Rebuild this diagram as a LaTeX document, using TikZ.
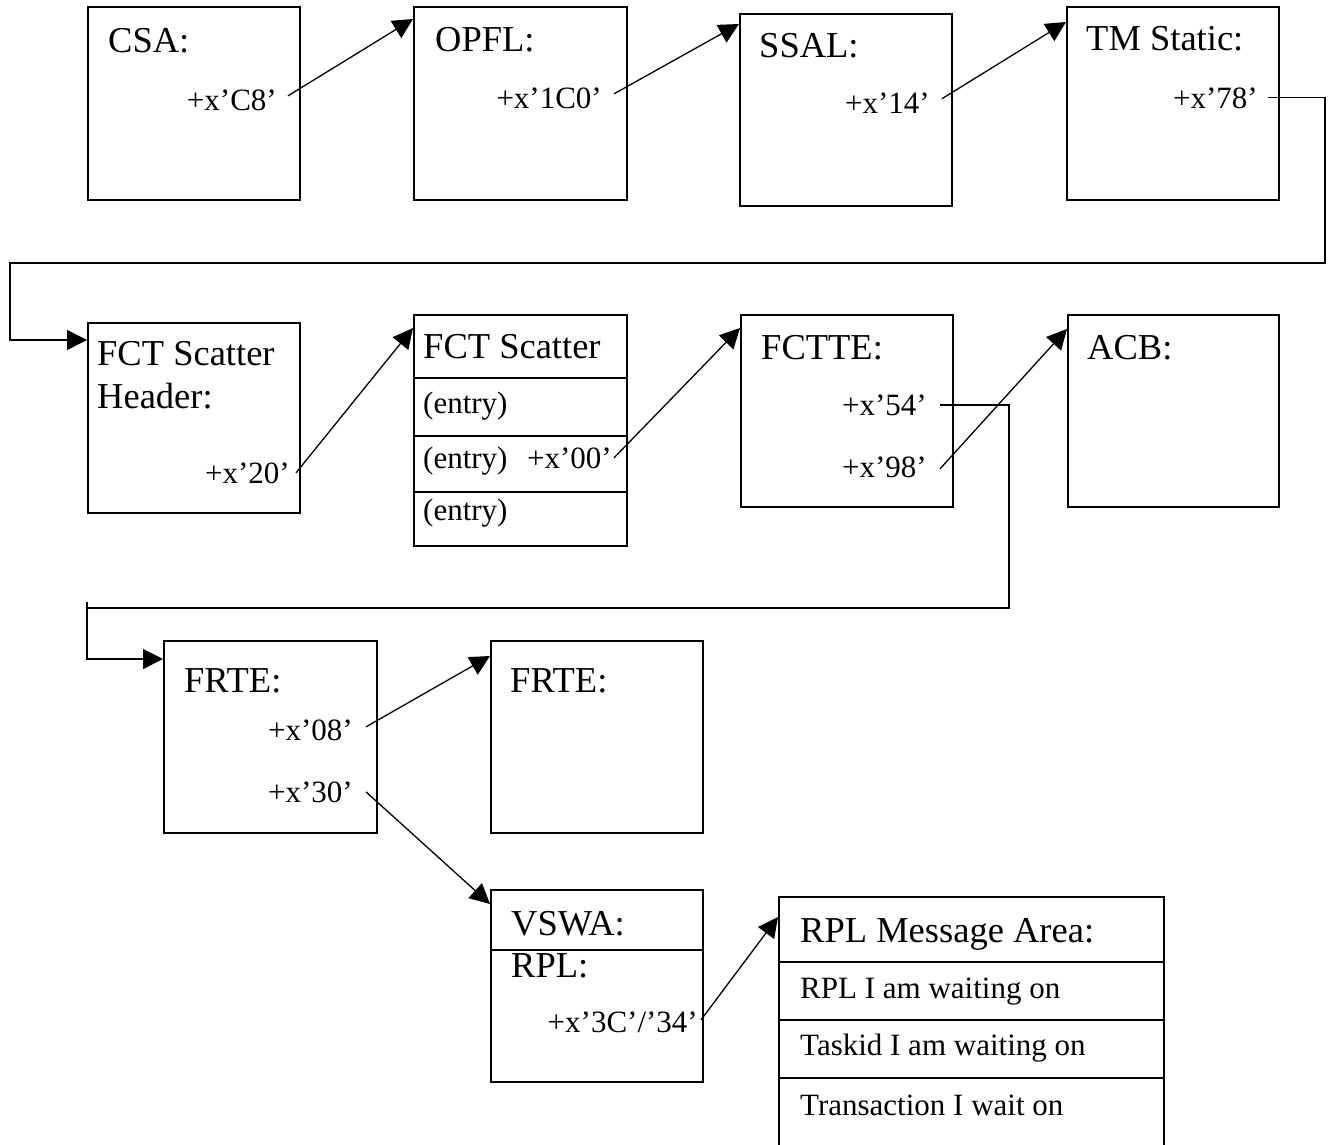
\documentclass[tikz,border=0pt]{standalone}
\usepackage{fontspec}
\setmainfont{Liberation Serif}
\usetikzlibrary{arrows.meta}
\begin{document}
\begin{tikzpicture}[x=1pt,y=-1pt,
 box/.style={draw, line width=1.5pt, inner sep=0pt, anchor=north west},
 ttl/.style={font=\fontsize{36.5}{40}\selectfont, anchor=base west, inner sep=0pt},
 sm/.style={font=\fontsize{31}{34}\selectfont, anchor=base west, inner sep=0pt},
 smr/.style={font=\fontsize{31}{34}\selectfont, anchor=base east, inner sep=0pt},
 tip/.style={-{Triangle[length=20pt,width=20pt]}},
 ptr/.style={line width=1.3pt, tip},
 wire/.style={line width=1.3pt},
 divl/.style={line width=1.3pt}]
\useasboundingbox (0,0) rectangle (1332,1144);
\clip (0,0) rectangle (1332,1144);
% row 1
\node[box, minimum width=212pt, minimum height=193pt] (csa) at (87,6) {};
\node[box, minimum width=213pt, minimum height=193pt] (opfl) at (413,6) {};
\node[box, minimum width=212pt, minimum height=192pt] (ssal) at (739,13) {};
\node[box, minimum width=212pt, minimum height=193pt] (tm) at (1066,6) {};
\node[ttl] (csat) at (108,52) {CSA:};
\node[smr] (c8) at (277,110) {+x’C8’};
\node[ttl] (opflt) at (435,51) {OPFL:};
\node[smr] (c1c0) at (602,108) {+x’1C0’};
\node[ttl] (ssalt) at (759,57) {SSAL:};
\node[smr] (c14) at (930,113) {+x’14’};
\node[ttl] (tmt) at (1086,50) {TM Static:};
\node[smr] (c78) at (1258,108) {+x’78’};
% row 2
\node[box, minimum width=212pt, minimum height=190pt] (fch) at (87,322) {};
\node[box, minimum width=213pt, minimum height=231pt] (fcs) at (413,314) {};
\node[box, minimum width=212pt, minimum height=192pt] (fctte) at (740,314) {};
\node[box, minimum width=211pt, minimum height=192pt] (acb) at (1067,314) {};
\node[ttl] (fcht1) at (97,365) {FCT Scatter};
\node[ttl] (fcht2) at (97,408) {Header:};
\node[smr] (c20) at (290,483) {+x’20’};
\node[ttl] (fcst) at (423,358) {FCT Scatter};
\node[sm] (e1) at (423,413) {(entry)};
\node[sm] (e2) at (423,468) {(entry)};
\node[smr] (c00) at (612,468) {+x’00’};
\node[sm] (e3) at (423,520) {(entry)};
\foreach \yy in {378,436,492} \draw[divl] (fcs.west |- 0,\yy) -- (fcs.east |- 0,\yy);
\node[ttl] (fcttet) at (761,359) {FCTTE:};
\node[smr] (c54) at (927,415) {+x’54’};
\node[smr] (c98) at (927,477) {+x’98’};
\node[ttl] (acbt) at (1087,359) {ACB:};
% row 3
\node[box, minimum width=213pt, minimum height=192pt] (frte1) at (163,640) {};
\node[box, minimum width=212pt, minimum height=192pt] (frte2) at (490,640) {};
\node[ttl] (frte1t) at (184,692) {FRTE:};
\node[smr] (c08) at (353,740) {+x’08’};
\node[smr] (c30) at (353,802) {+x’30’};
\node[ttl] (frte2t) at (510,692) {FRTE:};
\node[box, minimum width=212pt, minimum height=192pt] (vswa) at (490,889) {};
\draw[divl] (vswa.west |- 0,950) -- (vswa.east |- 0,950);
\node[ttl] (vswat) at (511,935) {VSWA:};
\node[ttl] (rplt) at (511,977) {RPL:};
\node[smr] (c3c) at (698,1032) {+x’3C’/’34’};
\node[box, minimum width=385pt, minimum height=270pt] (rpl) at (778,896) {};
\foreach \yy in {962,1020,1078} \draw[divl] (rpl.west |- 0,\yy) -- (rpl.east |- 0,\yy);
\node[ttl] (rplmt) at (800,942) {RPL Message Area:};
\node[sm] (r1) at (800,998) {RPL I am waiting on};
\node[sm] (r2) at (800,1055) {Taskid I am waiting on};
\node[sm] (r3) at (800,1115) {Transaction I wait on};
% connectors
\draw[ptr] ([xshift=11pt,yshift=4pt]c8.east) -- ([yshift=-13pt]opfl.north west);
\draw[ptr] ([xshift=12pt,yshift=4pt]c1c0.east) -- ([yshift=-11pt]ssal.north west);
\draw[ptr] ([xshift=12pt,yshift=4pt]c14.east) -- ([yshift=-16pt]tm.north west);
\coordinate (w1a) at (1325,263);
\coordinate (w1b) at (10,263);
\draw[wire, tip] ([xshift=10pt]c78.east) -| (w1a) -- (w1b) |- ([yshift=-18pt]fch.north west);
\draw[ptr] ([xshift=6pt]c20.east) -- ([yshift=-14pt]fcs.north west);
\draw[ptr] ([xshift=2pt]c00.east) -- ([yshift=-14pt]fctte.north west);
\draw[ptr] ([xshift=13pt,yshift=-2pt]c98.east) -- ([yshift=-15pt]acb.north west);
\coordinate (w2a) at (1009,608);
\coordinate (w2b) at (87,608);
\draw[wire, tip] ([xshift=13pt]c54.east) -| (w2a) -- (w2b) |- ([yshift=-19pt]frte1.north west);
\draw[wire] (w2b) -- ++(0,-6);
\draw[ptr] ([xshift=13pt,yshift=3pt]c08.east) -- ([yshift=-16pt]frte2.north west);
\draw[ptr] ([xshift=13pt]c30.east) -- ([yshift=-15pt]vswa.north west);
\draw[ptr] ([xshift=3pt,yshift=2pt]c3c.east) -- ([yshift=-21pt]rpl.north west);
\end{tikzpicture}
\end{document}
